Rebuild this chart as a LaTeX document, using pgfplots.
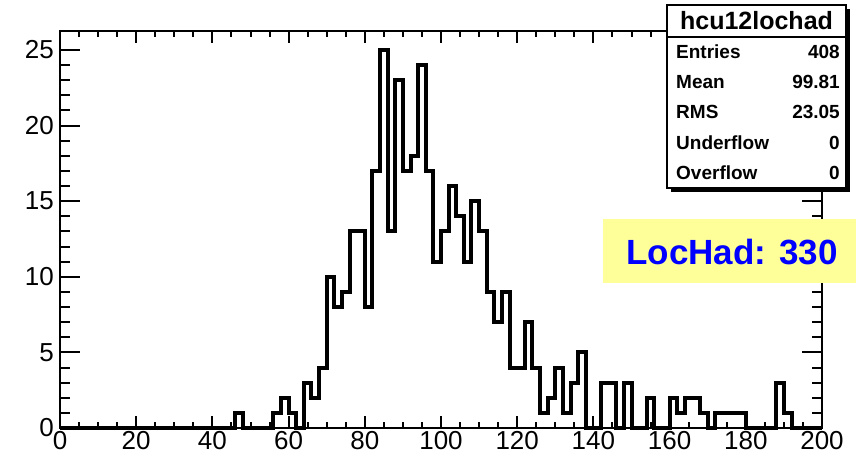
\documentclass[border=0pt]{standalone}
\usepackage{pgfplots}
\pgfplotsset{compat=1.18}
\usepackage{fontspec}
\setmainfont{Liberation Sans}
\definecolor{statyellow}{RGB}{255,255,153}
\begin{document}
\begin{tikzpicture}[x=1pt,y=1pt]
\useasboundingbox (0,0) rectangle (856,456);
\begin{axis}[
  at={(60pt,28pt)}, anchor=south west,
  scale only axis, width=762pt, height=397pt,
  xmin=0, xmax=200, ymin=0, ymax=26.25,
  xtick distance=20, minor x tick num=3,
  ytick distance=5, minor y tick num=4,
  tick align=inside,
  clip=false,
  axis line style={line width=2.5pt},
  tick style={line width=2pt, black},
  xtick style={/pgfplots/major tick length=12pt,/pgfplots/minor tick length=6pt},
  ytick style={/pgfplots/major tick length=20pt,/pgfplots/minor tick length=10pt},
  /pgf/number format/assume math mode=true,
  ticklabel style={font=\fontsize{26}{26}\selectfont},
  xticklabel style={inner sep=3pt},
  yticklabel style={inner sep=6pt},
]
\addplot[const plot, line width=4pt, black, line join=miter] table {
x y
0 0
2 0
4 0
6 0
8 0
10 0
12 0
14 0
16 0
18 0
20 0
22 0
24 0
26 0
28 0
30 0
32 0
34 0
36 0
38 0
40 0
42 0
44 0
46 1
48 0
50 0
52 0
54 0
56 1
58 2
60 1
62 0
64 3
66 2
68 4
70 10
72 8
74 9
76 13
78 13
80 8
82 17
84 25
86 13
88 23
90 17
92 18
94 24
96 17
98 11
100 13
102 16
104 14
106 11
108 15
110 13
112 9
114 7
116 9
118 4
120 4
122 7
124 4
126 1
128 2
130 4
132 1
134 3
136 5
138 0
140 0
142 3
144 3
146 0
148 3
150 0
152 0
154 2
156 0
158 0
160 2
162 1
164 2
166 2
168 1
170 0
172 1
174 1
176 1
178 1
180 0
182 0
184 0
186 0
188 3
190 1
192 0
194 0
196 0
198 0
200 0
};
\end{axis}
% stats box
\fill[black] (671,264) rectangle (850,447);
\draw[fill=white, line width=1.5pt] (667,268) rectangle (846,451);
\draw[line width=1.5pt] (667,419) -- (846,419);
\node[font=\bfseries\fontsize{25}{25}\selectfont, inner sep=0pt] at (756.5,435) {hcu12lochad};
\begin{scope}[every node/.style={font=\bfseries\fontsize{19}{19}\selectfont, inner sep=0pt}]
\node[anchor=west] at (676,404) {Entries};
\node[anchor=east] at (840,404) {408};
\node[anchor=west] at (676,374) {Mean};
\node[anchor=east] at (840,374) {99.81};
\node[anchor=west] at (676,344) {RMS};
\node[anchor=east] at (840,344) {23.05};
\node[anchor=west] at (676,313) {Underflow};
\node[anchor=east] at (840,313) {0};
\node[anchor=west] at (676,283) {Overflow};
\node[anchor=east] at (840,283) {0};
\end{scope}
% LocHad label
\fill[statyellow] (603,173) rectangle (856,237);
\node[font=\bfseries\fontsize{35}{35}\selectfont, text=blue, inner sep=0pt] at (732,204) {LocHad: 330};
\end{tikzpicture}
\end{document}
